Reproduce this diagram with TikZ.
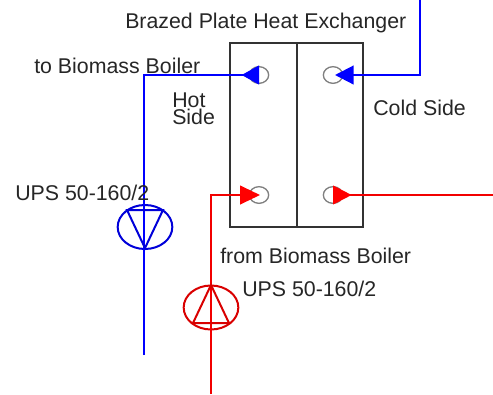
\documentclass[tikz,border=0pt]{standalone}
\usepackage{fontspec}
\setmainfont{Liberation Sans}
\usetikzlibrary{arrows.meta,shapes.geometric}
\tikzset{
  label/.style={font=\fontsize{16}{12.75}\selectfont, text=black!85, inner sep=0pt},
  port/.style={draw=gray, line width=1pt, ellipse, minimum width=14.5pt, minimum height=12.5pt, inner sep=0pt},
  hotpipe/.style={draw=red!95!black, line width=1.6pt},
  coldpipe/.style={draw=blue, line width=1.6pt},
  hottip/.style={-{Triangle[length=15pt,width=14pt,fill=red,color=red]}},
  coldtip/.style={-{Triangle[length=14pt,width=14pt,fill=blue,color=blue]}},
  hotback/.style={-{Triangle[reversed,length=14pt,width=14pt,fill=red,color=red]}},
  coldback/.style={-{Triangle[reversed,length=13pt,width=14pt,fill=blue,color=blue]}},
  pump/.style={ellipse, line width=1.5pt, minimum width=41pt, minimum height=33pt, inner sep=0pt},
}
\begin{document}
\begin{tikzpicture}[x=0.75pt,y=-0.75pt]
  \useasboundingbox (0,0) rectangle (493,394);

  % Heat exchanger plates
  \draw[draw=black!80, line width=1.6pt] (230,43) rectangle (363,227);
  \draw[draw=black!80, line width=1.6pt] (297,43) -- (297,227);

  % Ports
  \node[port] (hotout) at (259,75) {};
  \node[port] (coldin) at (333,75) {};
  \node[port] (hotin) at (259,195) {};
  \node[port] (coldout) at (333,195) {};

  % Pumps
  \node[pump, draw=blue!85!black] (bluepump) at (145,227) {};
  \node[pump, draw=red!85!black] (redpump) at (211,307.5) {};

  % Pipe ends and bends
  \coordinate (hotoutbend) at (144,75);
  \coordinate (hotoutend) at (144,355);
  \coordinate (coldintip) at (335,75);
  \coordinate (coldinbend) at (420,75);
  \coordinate (coldinend) at (420,0);
  \coordinate (hotintip) at (260,195);
  \coordinate (hotinbend) at (211,195);
  \coordinate (hotinend) at (211,394);
  \coordinate (coldoutend) at (493,195);

  % Pipes
  \draw[coldpipe, coldback] (hotoutend) -- (hotoutbend) -- (hotout.center);
  \draw[coldpipe, coldtip] (coldinend) -- (coldinbend) -- (coldintip);
  \draw[hotpipe, hottip] (hotinend) -- (hotinbend) -- (hotintip);
  \draw[hotpipe, hotback] (coldoutend) -- (coldout.center);

  % Pump triangles
  \draw[draw=blue!85!black, line width=1.5pt] (127,210) -- (163,210) -- (145,248) -- cycle;
  \draw[draw=red!85!black, line width=1.5pt] (193,323) -- (229,323) -- (211,285) -- cycle;

  % Labels
  \node[label, anchor=base west] (title) at (125,28) {Brazed Plate Heat Exchanger};
  \node[label, anchor=base west] (toboiler) at (34,73) {to Biomass Boiler};
  \node[label, anchor=base west, align=left] (hotside) at (172,124) {Hot\\Side};
  \node[label, anchor=base west] (coldside) at (373,115) {Cold Side};
  \node[label, anchor=base west] (bluelabel) at (15,200) {UPS 50-160/2};
  \node[label, anchor=base west] (fromboiler) at (220,263) {from Biomass Boiler};
  \node[label, anchor=base west] (redlabel) at (242,296) {UPS 50-160/2};
\end{tikzpicture}
\end{document}
